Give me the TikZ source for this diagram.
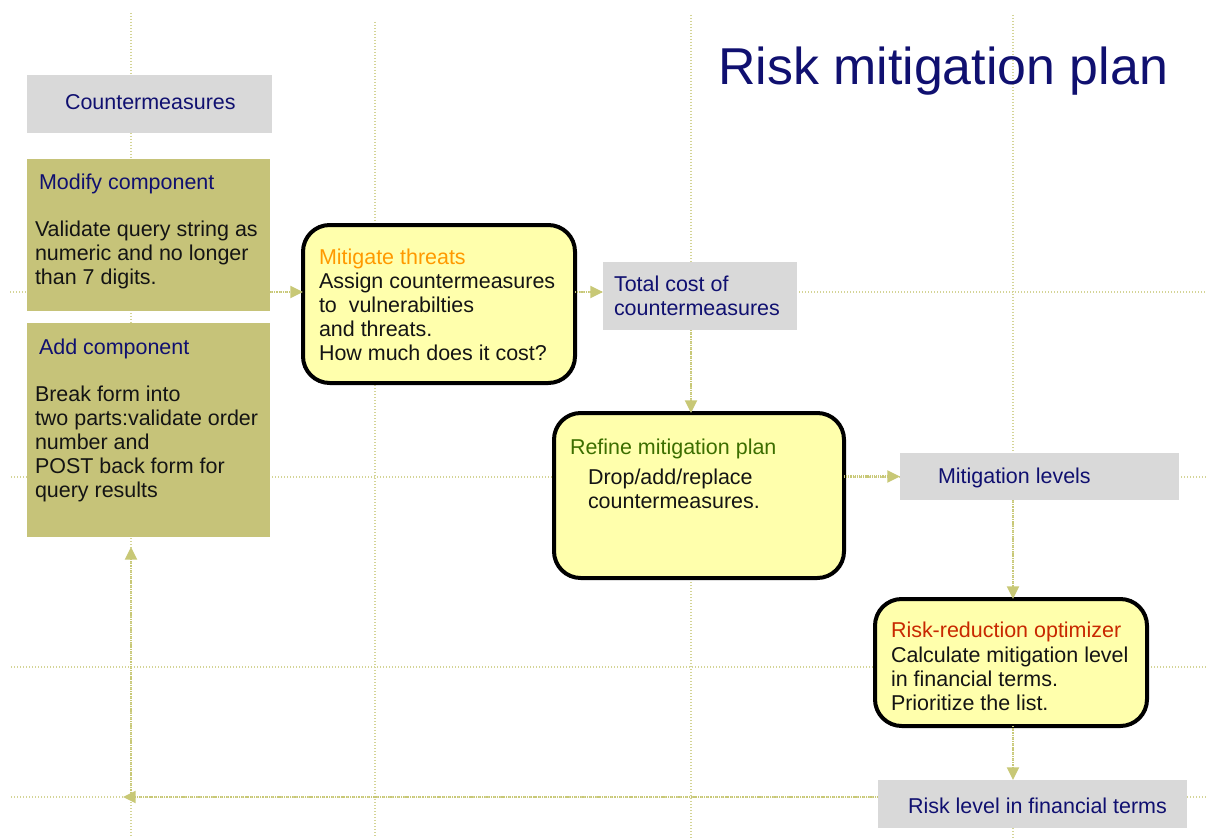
\documentclass[tikz,border=0pt]{standalone}
\usepackage{fontspec}
\setmainfont{Liberation Sans}
\usetikzlibrary{arrows.meta,calc}
\definecolor{olivebox}{RGB}{198,195,121}
\definecolor{grayc}{RGB}{217,217,217}
\definecolor{yellowc}{RGB}{255,255,172}
\definecolor{navyc}{RGB}{16,16,112}
\definecolor{bodyc}{RGB}{20,20,20}
\definecolor{gridc}{RGB}{212,212,150}
\definecolor{arrowc}{RGB}{200,200,118}
\definecolor{orangec}{RGB}{255,153,0}
\definecolor{greenc}{RGB}{60,110,0}
\definecolor{redc}{RGB}{200,40,0}
\begin{document}
\begin{tikzpicture}[x=0.75pt,y=-0.75pt,
  gridline/.style={draw=gridc, line width=0.9pt, dash pattern=on 0.9pt off 1.35pt},
  conn/.style={draw=arrowc, line width=1.6pt, dash pattern=on 0.9pt off 0.7pt,
    -{Triangle[length=9.5pt,width=9pt]}},
  graybox/.style={fill=grayc, draw=none, inner sep=0pt, outer sep=0pt},
  olbox/.style={fill=olivebox, draw=none, inner sep=0pt, outer sep=0pt},
  yelbox/.style={fill=yellowc, draw=black, line width=3pt, rounded corners=20pt, inner sep=0pt, outer sep=0pt},
  txt/.style={anchor=north west, inner sep=0pt, outer sep=0pt,
    font=\fontsize{16.1}{18}\selectfont, align=left, text=bodyc},
  hd/.style={txt, text=navyc}]
\fill[white] (0,0) rectangle (1206,838);
\useasboundingbox (0,0) rectangle (1206,838);
% grid
\draw[gridline] (131,13) -- (131,838);
\draw[gridline] (375,22) -- (375,838);
\draw[gridline] (691,15) -- (691,838);
\draw[gridline] (1013,15) -- (1013,838);
\draw[gridline] (10,292) -- (1206,292);
\draw[gridline] (11,477) -- (1206,477);
\draw[gridline] (11,667) -- (1206,667);
\draw[gridline] (11,797) -- (1206,797);
% title
\node[anchor=base west, inner sep=0pt, font=\fontsize{38.9}{46}\selectfont, text=navyc] (title) at (718,85) {Risk mitigation plan};
% boxes
\node[graybox, minimum width=183.75pt, minimum height=43.5pt] (cm) at (149.5,104) {};
\node[olbox, minimum width=182.25pt, minimum height=114pt] (mod) at (148.5,235) {};
\node[olbox, minimum width=182.25pt, minimum height=160.5pt] (add) at (148.5,430) {};
\node[yelbox, minimum width=204pt, minimum height=118.5pt] (mit) at (439,304) {};
\node[graybox, minimum width=145.5pt, minimum height=51pt] (tot) at (700,296) {};
\node[yelbox, minimum width=217.5pt, minimum height=123.75pt] (ref) at (699,495.5) {};
\node[graybox, minimum width=209.25pt, minimum height=35.25pt] (lev) at (1039.5,476.5) {};
\node[yelbox, minimum width=204pt, minimum height=95.25pt] (opt) at (1011,662.5) {};
\node[graybox, minimum width=231.75pt, minimum height=36pt] (risk) at (1032.5,804) {};
% texts
\node[hd] (cmT) at (65,94) {\rule{0pt}{12pt}Countermeasures};
\node[hd] (modT) at (39,174) {\rule{0pt}{12pt}Modify component};
\node[txt] (modB) at (35,220) {\rule{0pt}{12pt}Validate query string as\\numeric and no longer\\than 7 digits.};
\node[hd] (addT) at (39,338) {\rule{0pt}{12pt}Add component};
\node[txt] (addB) at (35,385) {\rule{0pt}{12pt}Break form into\\two parts:validate order\\number and\\POST back form for\\query results};
\node[txt, text=orangec] (mitT) at (319,248) {\rule{0pt}{12pt}Mitigate threats};
\node[txt] (mitB) at (319,272) {\rule{0pt}{12pt}Assign countermeasures\\to\ \ vulnerabilties\\and threats.\\How much does it cost?};
\node[hd] (totT) at (614,275) {\rule{0pt}{12pt}Total cost of\\countermeasures};
\node[txt, text=greenc] (refT) at (570,438) {\rule{0pt}{12pt}Refine mitigation plan};
\node[txt] (refB) at (588,468) {\rule{0pt}{12pt}Drop/add/replace\\countermeasures.};
\node[hd] (levT) at (938,467) {\rule{0pt}{12pt}Mitigation levels};
\node[txt, text=redc] (optT) at (891,621) {\rule{0pt}{12pt}Risk-reduction optimizer};
\node[txt] (optB) at (891,646) {\rule{0pt}{12pt}Calculate mitigation level\\in financial terms.\\Prioritize the list.};
\node[hd] (riskT) at (908,797) {\rule{0pt}{12pt}Risk level in financial terms};
% connector helper coordinates
\coordinate (r1) at (0,292);
\coordinate (c3) at (691,0);
\coordinate (c4) at (1013,0);
\coordinate (c1) at (131,0);
\coordinate (fbL) at (123,797);
\coordinate (fbC) at (131,797);
% connectors
\draw[conn] (mod.east |- r1) -- (mit.west |- r1);
\draw[conn] (mit.east |- r1) -- (tot.west |- r1);
\draw[conn] (tot.south -| c3) -- (ref.north -| c3);
\draw[conn] (ref.east |- lev.west) -- (lev.west);
\draw[conn] (lev.south -| c4) -- (opt.north -| c4);
\draw[conn] (opt.south -| c4) -- (risk.north -| c4);
\draw[conn] (risk.west |- fbL) -- (fbL);
\draw[conn] (fbC) -- ($(add.south -| c1)+(0,10)$);
\end{tikzpicture}
\end{document}
